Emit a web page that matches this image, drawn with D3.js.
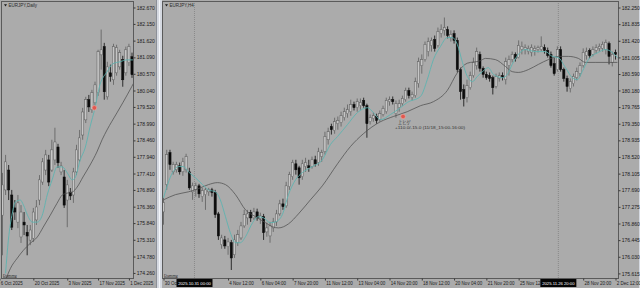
<!DOCTYPE html>
<html>
<head>
<meta charset="utf-8">
<title>EURJPY Daily / H4</title>
<script src="https://cdn.jsdelivr.net/npm/d3@7/dist/d3.min.js"></script>
<style>
    html, body { margin: 0; padding: 0; background: #ababab; overflow: hidden; }
    svg { display: block; }
</style>
</head>
<body>
<div class="chartCanvas"></div>
<script>
// ---------------- data: EURJPY Daily (open, high, low, close) ----------------
const dailyOHLC = [
    [176.09, 177.43, 174.82, 177.05], [176.89, 178.00, 176.73, 177.78], [177.52, 177.68, 176.57, 176.89],
    [176.73, 176.89, 175.62, 175.71], [176.32, 176.57, 175.94, 176.19], [175.87, 176.73, 175.68, 176.48],
    [175.40, 176.41, 175.21, 176.19], [175.87, 176.19, 175.46, 175.78], [175.55, 175.78, 174.82, 175.43],
    [175.30, 175.78, 175.14, 175.62], [175.36, 176.32, 175.24, 176.19], [175.94, 176.57, 175.78, 176.35],
    [176.57, 177.36, 176.41, 177.21], [177.14, 177.90, 177.05, 177.78], [177.52, 178.16, 177.36, 178.00],
    [177.84, 178.00, 177.01, 177.14], [177.52, 178.48, 177.46, 178.16], [177.84, 178.86, 177.68, 178.41],
    [178.25, 178.35, 177.59, 177.75], [177.46, 177.78, 177.36, 177.65], [177.30, 177.52, 176.32, 176.41],
    [176.57, 177.21, 175.71, 177.05], [176.82, 176.95, 176.57, 176.70], [176.73, 177.59, 176.48, 177.46],
    [177.46, 178.32, 177.36, 178.16], [177.84, 178.79, 177.78, 178.54], [178.63, 179.49, 178.48, 179.36],
    [179.11, 179.84, 179.01, 179.75], [179.75, 179.90, 179.36, 179.52], [179.43, 180.06, 179.33, 179.97],
    [179.65, 180.32, 179.55, 180.22], [179.97, 181.33, 179.87, 181.27], [181.17, 181.97, 180.70, 181.33],
    [181.43, 181.55, 179.75, 180.00], [179.84, 180.95, 179.75, 180.79], [180.60, 180.86, 180.32, 180.48],
    [180.38, 181.52, 180.22, 181.43], [180.60, 181.49, 180.51, 181.40], [180.79, 181.33, 180.70, 181.24],
    [181.02, 181.14, 180.16, 180.38], [180.60, 181.43, 180.51, 181.33], [180.92, 181.52, 180.82, 181.43],
    [181.11, 181.24, 180.44, 180.54]
];
// moving averages: [bar index, price]
const dailyFastMA = [
    [1.0, 174.25], [1.9, 175.30], [3.2, 176.16], [4.2, 176.51], [5.8, 176.57], [6.8, 176.41], [8.1, 176.09],
    [9.7, 175.87], [11.3, 175.87], [12.9, 176.09], [14.5, 176.73], [16.1, 177.21], [17.7, 177.62], [19.4, 177.62],
    [21.0, 177.43], [22.6, 177.21], [23.5, 177.27], [25.2, 177.84], [26.8, 178.22], [28.4, 178.89], [30.0, 179.49],
    [31.6, 180.22], [33.9, 180.63], [35.8, 180.89], [38.1, 180.95], [40.3, 181.01], [42.3, 181.01]
];
const dailySlowMA = [
    [1.0, 174.03], [2.6, 174.41], [4.8, 174.73], [6.8, 174.98], [9.0, 175.20], [11.3, 175.40], [13.2, 175.71],
    [15.5, 176.09], [17.7, 176.47], [19.4, 176.73], [21.0, 176.79], [22.6, 176.82], [24.2, 176.98], [26.1, 177.30],
    [28.4, 177.68], [30.6, 178.09], [32.3, 178.48], [33.9, 178.79], [37.1, 179.33], [39.0, 179.65], [41.9, 180.16],
    [42.5, 180.27]
];
const dailyPriceTicks = [182.670, 182.150, 181.620, 181.090, 180.570, 180.040, 179.520, 178.990, 178.460,
    177.940, 177.410, 176.890, 176.360, 175.840, 175.310, 174.780, 174.260];
const dailyTimeIdx = [-1, 10, 21, 31, 41];
const dailyTimeLabels = ["6 Oct 2025", "20 Oct 2025", "3 Nov 2025", "17 Nov 2025", "1 Dec 2025"];
const dailyMarks = [[29.8, 179.49]];

// ---------------- data: EURJPY H4 (open, high, low, close) ----------------
const h4OHLC = [
    [177.15, 177.50, 176.83, 177.38], [177.83, 178.70, 177.70, 178.58], [178.63, 178.70, 178.20, 178.33],
    [178.15, 178.40, 178.08, 178.33], [178.20, 178.40, 178.13, 178.33], [178.30, 178.38, 178.08, 178.15],
    [178.15, 178.50, 178.05, 178.40], [178.20, 178.60, 178.13, 178.53], [178.15, 178.25, 177.70, 177.75],
    [177.65, 177.88, 177.45, 177.80], [177.70, 177.88, 177.53, 177.80], [177.80, 177.85, 177.50, 177.60],
    [177.53, 177.75, 177.40, 177.68], [177.58, 177.75, 177.20, 177.70], [177.65, 177.75, 177.55, 177.70],
    [177.70, 177.75, 177.53, 177.63], [177.63, 177.70, 177.00, 177.08], [177.10, 177.15, 176.45, 176.55],
    [176.33, 176.58, 176.23, 176.50], [176.45, 176.55, 176.23, 176.30], [176.28, 176.50, 176.08, 176.40],
    [176.38, 176.45, 175.70, 176.00], [176.08, 176.58, 176.00, 176.45], [176.38, 176.70, 176.30, 176.58],
    [176.50, 176.90, 176.45, 176.80], [176.80, 177.20, 176.75, 177.08], [177.00, 177.20, 176.83, 177.10],
    [177.13, 177.20, 176.90, 177.00], [177.00, 177.25, 176.95, 177.15], [177.15, 177.23, 176.93, 177.00],
    [176.98, 177.13, 176.85, 177.05], [177.03, 177.10, 176.45, 176.63], [176.65, 176.88, 176.53, 176.75],
    [176.55, 176.90, 176.38, 176.80], [176.75, 177.00, 176.65, 176.90], [176.90, 177.20, 176.80, 177.10],
    [177.10, 177.45, 177.05, 177.35], [177.35, 177.48, 177.20, 177.28], [177.30, 177.90, 177.25, 177.80],
    [177.78, 178.15, 177.70, 178.08], [178.03, 178.45, 177.95, 178.38], [178.35, 178.45, 178.08, 178.20],
    [178.25, 178.30, 177.83, 178.00], [178.03, 178.45, 177.95, 178.35], [178.28, 178.50, 178.15, 178.38],
    [178.30, 178.45, 178.15, 178.25], [178.28, 178.53, 178.23, 178.45], [178.45, 178.55, 178.28, 178.35],
    [178.38, 178.75, 178.30, 178.65], [178.53, 178.70, 178.40, 178.63], [178.65, 179.15, 178.58, 179.03],
    [178.95, 179.25, 178.83, 179.15], [179.28, 179.35, 179.08, 179.20], [179.18, 179.50, 179.10, 179.40],
    [179.35, 179.53, 179.20, 179.43], [179.38, 179.65, 179.28, 179.55], [179.50, 179.75, 179.43, 179.65],
    [179.60, 179.83, 179.50, 179.70], [179.65, 179.95, 179.55, 179.83], [179.83, 179.90, 179.68, 179.75],
    [179.75, 179.98, 179.65, 179.90], [179.80, 179.98, 179.70, 179.88], [179.93, 180.00, 179.75, 179.80],
    [179.80, 179.85, 179.00, 179.35], [179.40, 179.58, 179.33, 179.50], [179.48, 179.63, 179.40, 179.55],
    [179.53, 179.60, 179.35, 179.43], [179.45, 179.68, 179.40, 179.60], [179.58, 179.80, 179.53, 179.73],
    [179.65, 180.00, 179.60, 179.93], [179.90, 180.03, 179.80, 179.95], [179.95, 180.03, 179.83, 179.90],
    [179.60, 179.93, 179.50, 179.85], [179.75, 179.95, 179.65, 179.85], [179.85, 180.05, 179.80, 179.98],
    [179.95, 180.25, 179.90, 180.18], [180.18, 180.25, 179.98, 180.05], [180.00, 180.15, 179.93, 180.08],
    [180.05, 180.50, 180.00, 180.40], [180.35, 181.00, 180.25, 180.90], [180.80, 181.08, 180.60, 180.95],
    [180.95, 181.40, 180.90, 181.33], [181.15, 181.50, 181.03, 181.40], [181.30, 181.50, 181.15, 181.43],
    [181.45, 181.55, 181.15, 181.23], [181.30, 181.75, 181.25, 181.65], [181.60, 181.83, 181.50, 181.70],
    [181.68, 182.00, 181.55, 181.75], [181.70, 181.78, 181.48, 181.55], [181.50, 181.68, 181.40, 181.58],
    [181.60, 181.68, 181.35, 181.43], [181.43, 181.50, 180.63, 180.70], [180.70, 180.75, 179.95, 180.15],
    [180.20, 180.33, 179.78, 179.98], [180.00, 180.45, 179.88, 180.30], [180.25, 180.65, 180.20, 180.55],
    [180.55, 181.00, 180.50, 180.88], [180.80, 181.25, 180.70, 181.15], [181.08, 181.15, 180.65, 180.73],
    [180.73, 180.78, 180.50, 180.58], [180.58, 180.65, 180.45, 180.50], [180.55, 180.63, 180.40, 180.48],
    [180.50, 180.55, 180.08, 180.25], [180.28, 180.60, 180.23, 180.53], [180.48, 180.63, 180.40, 180.55],
    [180.55, 180.63, 180.43, 180.50], [180.45, 181.00, 180.33, 180.90], [180.80, 181.05, 180.55, 180.95],
    [180.95, 181.15, 180.88, 181.08], [181.08, 181.13, 180.90, 180.98], [181.00, 181.43, 180.98, 181.30],
    [181.20, 181.40, 181.08, 181.28], [181.20, 181.33, 181.08, 181.25], [181.15, 181.30, 181.08, 181.23],
    [181.13, 181.33, 181.03, 181.25], [181.18, 181.30, 181.05, 181.23], [181.20, 181.30, 181.13, 181.25],
    [181.20, 181.53, 181.15, 181.28], [181.25, 181.33, 181.10, 181.18], [181.18, 181.25, 181.00, 181.05],
    [181.08, 181.15, 180.75, 180.80], [180.85, 181.00, 180.55, 180.60], [180.70, 181.28, 180.65, 181.20],
    [181.20, 181.28, 180.65, 180.70], [180.70, 180.75, 180.40, 180.48], [180.48, 180.55, 180.15, 180.28],
    [180.23, 180.48, 180.13, 180.40], [180.35, 180.60, 180.28, 180.53], [180.50, 180.75, 180.43, 180.65],
    [180.60, 180.88, 180.53, 180.80], [180.80, 181.23, 180.75, 181.13], [181.05, 181.25, 180.95, 181.15],
    [181.18, 181.23, 180.98, 181.05], [181.08, 181.28, 181.03, 181.20], [181.18, 181.33, 181.10, 181.25],
    [181.23, 181.35, 181.15, 181.28], [181.23, 181.40, 181.15, 181.33], [181.20, 181.45, 181.08, 181.38],
    [181.35, 181.40, 180.83, 181.03], [180.88, 181.15, 180.78, 181.08], [181.13, 181.20, 180.95, 181.08]
];
const h4FastMA = [
    [0, 177.50], [2.8, 178.13], [4.6, 178.28], [6.2, 178.28], [7.7, 178.15], [9.9, 178.00], [12.1, 177.83],
    [13.9, 177.70], [16.1, 177.65], [17.6, 177.45], [19.2, 177.03], [20.7, 176.63], [22.3, 176.38], [23.8, 176.38],
    [25.4, 176.53], [27.6, 176.88], [29.4, 177.03], [31.0, 177.00], [33.1, 176.88], [34.7, 176.90], [36.8, 177.08],
    [38.7, 177.58], [40.9, 177.95], [43.0, 178.13], [46.1, 178.28], [49.2, 178.45], [51.7, 178.83], [53.9, 179.03],
    [57.0, 179.33], [60.1, 179.63], [63.2, 179.75], [65.0, 179.63], [67.2, 179.45], [70.3, 179.58], [73.4, 179.75],
    [75.5, 179.88], [79.6, 180.03], [81.7, 180.45], [83.6, 180.95], [85.8, 181.28], [87.9, 181.50], [89.5, 181.50],
    [91.0, 181.33], [92.6, 180.88], [94.1, 180.53], [95.7, 180.40], [97.2, 180.53], [98.8, 180.65], [100.6, 180.75],
    [102.2, 180.58], [105.0, 180.50], [106.5, 180.58], [108.0, 180.83], [109.9, 181.08], [112.1, 181.20],
    [115.2, 181.15], [118.3, 181.15], [120.4, 181.03], [122.3, 181.00], [124.5, 180.75], [126.6, 180.50],
    [128.2, 180.45], [129.7, 180.65], [131.6, 180.95], [134.7, 181.13], [136.8, 181.20], [139.0, 181.13],
    [140.6, 181.00]
];
const h4SlowMA = [
    [0, 177.45], [3.7, 177.58], [7.7, 177.65], [10.8, 177.73], [13.9, 177.83], [16.7, 177.88], [19.2, 177.83],
    [22.3, 177.58], [25.4, 177.20], [28.5, 177.03], [31.6, 176.88], [33.7, 176.78], [35.6, 176.75], [38.7, 176.85],
    [41.8, 177.10], [45.5, 177.45], [49.2, 177.80], [53.9, 178.35], [57.9, 178.78], [61.9, 179.10], [67.2, 179.40],
    [71.2, 179.53], [75.5, 179.65], [79.6, 179.80], [83.6, 179.90], [87.9, 180.18], [91.0, 180.62], [94.1, 180.86],
    [98.1, 180.92], [99.7, 180.98], [102.8, 180.95], [105.9, 180.78], [108.0, 180.65], [109.9, 180.63],
    [113.0, 180.70], [116.1, 180.83], [119.2, 180.95], [122.3, 181.03], [125.4, 181.03], [128.5, 180.98],
    [130.7, 180.88], [133.7, 180.88], [137.8, 180.88], [140.6, 180.88]
];
const h4PriceTicks = [182.250, 181.835, 181.420, 181.005, 180.590, 180.180, 179.765, 179.350, 178.935,
    178.520, 178.105, 177.690, 177.275, 176.860, 176.445, 176.030, 175.615];
// labels partly hidden behind the cursor boxes are cut to what shows
const h4TimeIdx = [0, 20, 30, 40, 50, 60, 70, 80, 90, 100, 110, 130, 140];
const h4TimeLabels = ["30 Oct", "4 Nov 12:00", "6 Nov 04:00", "7 Nov 20:00", "11 Nov 12:00", "13 Nov 04:00",
    "14 Nov 20:00", "18 Nov 12:00", "20 Nov 04:00", "21 Nov 20:00", "25 Nov 12", "28 Nov 20:00", "2 Dec 12:00"];
const h4CursorIdx = [9.6, 122.3];
const h4CursorLabels = ["2025.10.31 00:00", "2025.11.26 20:00"];
const h4Marks = [[74.2, 179.53]];
const h4MarkNotes = ["上ヒゲ", "+110.0/-15.0 (11/18_15:00-16:00)"];

// ---------------- drawing ----------------
const FONT = "'Liberation Sans', Arial, sans-serif";

const svg = d3.select(".chartCanvas")
    .append("svg")
    .attr("width", 640)
    .attr("height", 288);

svg.append("rect").attr("width", 640).attr("height", 288).attr("fill", "#ababab");

// frame between the two chart windows
svg.append("rect").attr("x", 156).attr("y", 0).attr("width", 6).attr("height", 288).attr("fill", "#d5d9e1");
svg.append("line").attr("x1", 156.5).attr("x2", 156.5).attr("y1", 0).attr("y2", 288).attr("stroke", "#8c9098");
svg.append("line").attr("x1", 159.5).attr("x2", 159.5).attr("y1", 0).attr("y2", 288).attr("stroke", "#f3f5f9");
svg.append("line").attr("x1", 639.5).attr("x2", 639.5).attr("y1", 0).attr("y2", 288).attr("stroke", "#d5d9e1");

function drawPanel(p) {
    const x = d3.scaleLinear().domain(p.xDomain).range(p.xRange);
    const y = d3.scaleLinear().domain(p.yDomain).range([p.top + 0.5, p.bottom]);
    const g = svg.append("g");

    g.append("clipPath").attr("id", "clip-" + p.id)
        .append("rect")
        .attr("x", p.left + 1).attr("y", p.top + 1)
        .attr("width", p.right - p.left - 1).attr("height", p.bottom - p.top - 1);

    const plot = g.append("g").attr("clip-path", `url(#clip-${p.id})`);

    // cursor (sync) lines
    (p.cursorIdx || []).forEach(c => {
        plot.append("line")
            .attr("x1", x(c)).attr("x2", x(c))
            .attr("y1", p.top).attr("y2", p.bottom)
            .attr("stroke", "#7a7a7a").attr("stroke-width", 0.7)
            .attr("stroke-dasharray", "1,1");
    });

    // candles
    const isUp = d => d[3] >= d[0];
    const candle = plot.selectAll("g.candle").data(p.ohlc).join("g").attr("class", "candle");
    candle.append("line")
        .attr("x1", (d, i) => x(i)).attr("x2", (d, i) => x(i))
        .attr("y1", d => y(d[1])).attr("y2", d => y(d[2]))
        .attr("stroke", d => isUp(d) ? "#5e5e5e" : "#0c0c0c")
        .attr("stroke-width", 0.8);
    candle.append("rect")
        .attr("x", (d, i) => x(i) - 1.1)
        .attr("width", 2.2)
        .attr("y", d => y(Math.max(d[0], d[3])))
        .attr("height", d => Math.max(0.8, Math.abs(y(d[0]) - y(d[3]))))
        .attr("fill", d => isUp(d) ? "#c6c6c6" : "#0c0c0c")
        .attr("stroke", d => isUp(d) ? "#5e5e5e" : "#0c0c0c")
        .attr("stroke-width", 0.5);

    // moving averages
    const maLine = d3.line().x(d => x(d[0])).y(d => y(d[1])).curve(d3.curveMonotoneX);
    plot.append("path").datum(p.slowMA).attr("d", maLine)
        .attr("fill", "none").attr("stroke", "#4f4f4f").attr("stroke-width", 0.75);
    plot.append("path").datum(p.fastMA).attr("d", maLine)
        .attr("fill", "none").attr("stroke", "#5db3b0").attr("stroke-width", 0.9);

    // alert marks
    p.marks.forEach(m => {
        plot.append("circle")
            .attr("cx", x(m[0])).attr("cy", y(m[1])).attr("r", 2.3)
            .attr("fill", "#e0584f").attr("stroke", "#f2a6a0").attr("stroke-width", 0.6);
    });
    if (p.markNotes) {
        const m = p.marks[0];
        plot.append("text")
            .attr("x", x(m[0]) - 5).attr("y", y(m[1]) + 7.5)
            .attr("font-family", "'Noto Sans CJK JP', sans-serif").attr("font-size", 4.2)
            .attr("fill", "#333").text(p.markNotes[0]);
        plot.append("text")
            .attr("x", x(m[0]) - 8).attr("y", y(m[1]) + 12.5)
            .attr("font-family", FONT).attr("font-size", 4.2)
            .attr("textLength", 70).attr("lengthAdjust", "spacingAndGlyphs")
            .attr("fill", "#333").text(p.markNotes[1]);
    }

    // frame
    g.append("rect")
        .attr("x", p.left + 0.5).attr("y", p.top + 0.5)
        .attr("width", p.right - p.left).attr("height", p.bottom - p.top)
        .attr("fill", "none").attr("stroke", "#5a5a5a").attr("stroke-width", 1);

    // price axis
    const yAxis = d3.axisRight(y)
        .tickValues(p.priceTicks)
        .tickFormat(d3.format(".3f"))
        .tickSize(2).tickSizeOuter(0).tickPadding(1.3);
    const ya = g.append("g").attr("transform", `translate(${p.right + 0.5},0)`).call(yAxis);
    ya.select(".domain").remove();
    ya.selectAll("line").attr("stroke", "#3a3a3a");
    ya.selectAll("text").attr("font-family", FONT).attr("font-size", 5).attr("fill", "#1a1a1a");

    // time axis
    const xAxis = d3.axisBottom(x)
        .tickValues(p.timeIdx)
        .tickFormat((d, i) => p.timeLabels[i])
        .tickSize(2).tickSizeOuter(0).tickPadding(1.2);
    const xa = g.append("g").attr("transform", `translate(0,${p.bottom + 0.5})`).call(xAxis);
    xa.select(".domain").remove();
    xa.selectAll("line").attr("stroke", "#3a3a3a");
    xa.selectAll("text").attr("text-anchor", "start").attr("x", 0.8)
        .attr("font-family", FONT).attr("font-size", 4.5).attr("fill", "#1a1a1a");

    // cursor date boxes on the time axis
    (p.cursorIdx || []).forEach((c, i) => {
        const bx = g.append("g").attr("transform", `translate(${x(c)},${p.bottom + 1})`);
        bx.append("rect").attr("x", -18).attr("y", 0).attr("width", 36).attr("height", 8).attr("fill", "#050505");
        bx.append("text").attr("x", 0).attr("y", 5.7).attr("text-anchor", "middle")
            .attr("font-family", FONT).attr("font-size", 4.2).attr("fill", "#ffffff")
            .text(p.cursorLabels[i]);
    });

    // window title
    const t = g.append("g").attr("transform", `translate(${p.left + 3},${p.top + 4.5})`);
    t.append("path").attr("d", "M0,-1.3 L3,-1.3 L1.5,1 Z").attr("fill", "#1a1a1a");
    t.append("text").attr("x", 4.5).attr("y", 1.6)
        .attr("font-family", FONT).attr("font-size", 4.5).attr("fill", "#2a2a2a").text(p.title);

    // object label bottom-left
    g.append("text").attr("x", p.left + 2).attr("y", p.bottom - 1.5)
        .attr("font-family", FONT).attr("font-size", 4).attr("fill", "#2a2a2a")
        .attr("text-decoration", "underline").text("Dummy");
}

drawPanel({
    id: "daily", title: "EURJPY,Daily",
    left: 1, right: 133, top: 1, bottom: 278,
    xDomain: [0, 42], xRange: [2.5, 132],
    yDomain: [182.86, 174.10],
    ohlc: dailyOHLC, fastMA: dailyFastMA, slowMA: dailySlowMA,
    priceTicks: dailyPriceTicks, timeIdx: dailyTimeIdx, timeLabels: dailyTimeLabels,
    marks: dailyMarks
});

drawPanel({
    id: "h4", title: "EURJPY,H4",
    left: 162, right: 618, top: 1, bottom: 278,
    xDomain: [0, 140], xRange: [163.5, 615.5],
    yDomain: [182.40, 175.50],
    ohlc: h4OHLC, fastMA: h4FastMA, slowMA: h4SlowMA,
    priceTicks: h4PriceTicks, timeIdx: h4TimeIdx, timeLabels: h4TimeLabels,
    cursorIdx: h4CursorIdx, cursorLabels: h4CursorLabels,
    marks: h4Marks, markNotes: h4MarkNotes
});
</script>
</body>
</html>
